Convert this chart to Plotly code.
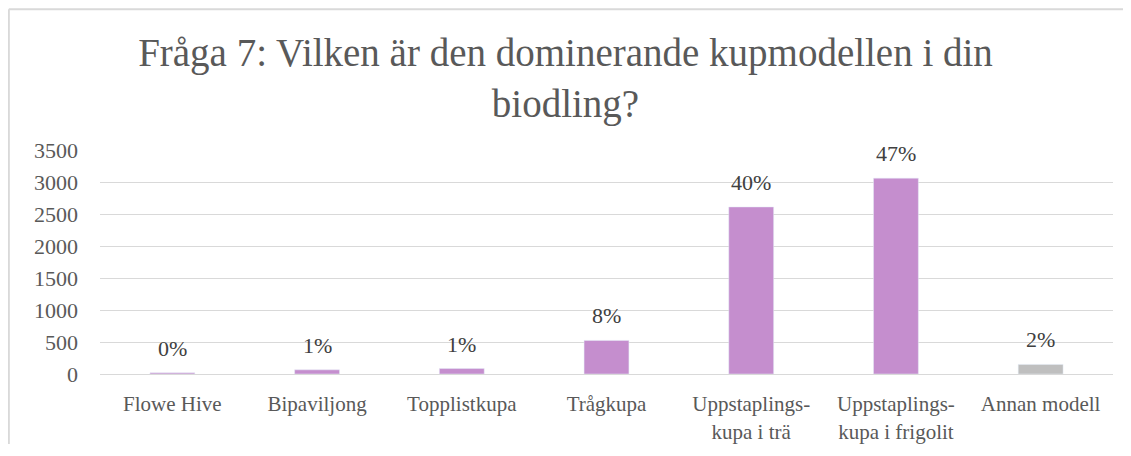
"""Fråga 7 – kupmodell (plotly)"""

import plotly.graph_objects as go

# data
kategorier = ["Flowe Hive", "Bipaviljong", "Topplistkupa", "Trågkupa",
              "Uppstaplings-<br>kupa i trä", "Uppstaplings-<br>kupa i frigolit",
              "Annan modell"]
antal = [18, 65, 85, 525, 2610, 3060, 150]
procent = ["0%", "1%", "1%", "8%", "40%", "47%", "2%"]
farger = ["#C58ECE"] * 6 + ["#BFBFBF"]

FONT = "Liberation Serif"
GRA = "#595959"

fig = go.Figure()

fig.add_trace(
    go.Bar(
        x=kategorier,
        y=antal,
        marker_color=farger,
        width=0.31,
        hoverinfo="skip",
    )
)

# datalabels ovanför staplarna
for k, v, p in zip(kategorier, antal, procent):
    fig.add_annotation(
        x=k, y=v, text=p, showarrow=False,
        yanchor="bottom", yshift=10,
        font=dict(family=FONT, size=22, color="#404040"),
    )

# ramen runt diagrammet (bara övre och vänstra kanten syns)
ram = dict(color="#D9D9D9", width=2)

# sidan har 8px body-marginal, därför något mindre figur
fig.update_layout(
    width=1115,
    height=436,
    margin=dict(l=92, r=10, t=142, b=70),
    paper_bgcolor="white",
    plot_bgcolor="white",
    showlegend=False,
    title=dict(
        text="Fråga 7: Vilken är den dominerande kupmodellen i din<br>biodling?",
        x=0.5, xanchor="center",
        y=0.867, yanchor="middle",
        font=dict(family=FONT, size=39, color=GRA),
    ),
    font=dict(family=FONT, color=GRA),
    shapes=[
        dict(type="line", xref="paper", yref="paper",
             x0=-0.090, x1=1.3, y0=1.628, y1=1.628, line=ram),
        dict(type="line", xref="paper", yref="paper",
             x0=-0.090, x1=-0.090, y0=-0.6, y1=1.628, line=ram),
    ],
)

fig.update_xaxes(
    tickfont=dict(family=FONT, size=21, color=GRA),
    showgrid=False,
    showline=True,
    linecolor="#D9D9D9",
    linewidth=1,
    ticks="",
    ticklabelstandoff=11,
    automargin=False,
)
fig.update_yaxes(
    range=[0, 3500],
    dtick=500,
    tickfont=dict(family=FONT, size=22, color=GRA),
    gridcolor="#D9D9D9",
    gridwidth=1,
    zeroline=False,
    showline=False,
    ticks="",
    ticklabelstandoff=21,
    automargin=False,
)

fig.write_html("out.html")
